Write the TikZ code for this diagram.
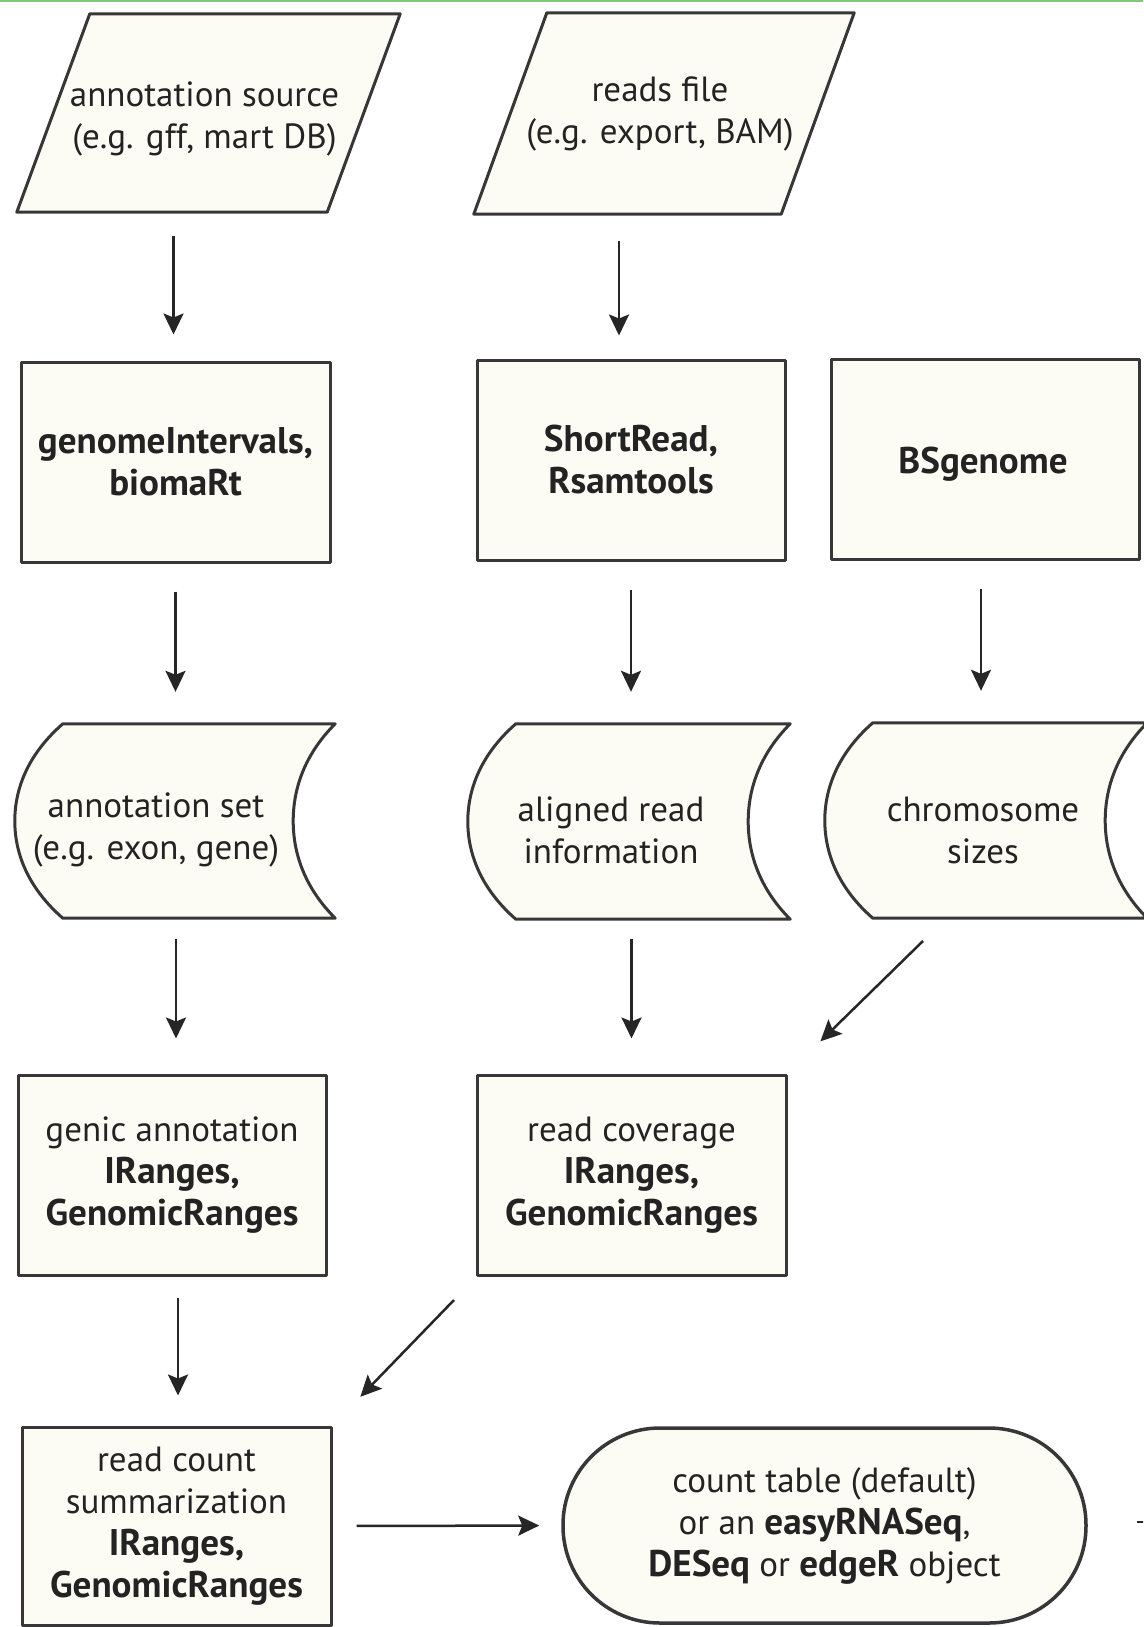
\documentclass[tikz,border=0pt]{standalone}
\usepackage{fontspec}
\setmainfont{PT Sans}[BoldFeatures={Scale=1.06}]
\usetikzlibrary{arrows.meta,calc}
\pgfdeclarelayer{bg}
\pgfsetlayers{bg,main}
\definecolor{linec}{RGB}{55,55,55}
\definecolor{fillc}{RGB}{252,252,245}
\definecolor{textc}{RGB}{35,35,35}
\definecolor{topgreen}{RGB}{130,200,120}
\newcommand\fs{\fontsize{35pt}{42pt}\selectfont}
\newcommand\storedshape[1]{%
  \path[shp] ($(#1.north west)+(48,0)$) -- ($(#1.north east)+(42,0)$)
    .. controls ($(#1.north east)+(14,28)$) and ($(#1.east)+(0,-36)$) .. (#1.east)
    .. controls ($(#1.east)+(0,36)$) and ($(#1.south east)+(14,-28)$) .. ($(#1.south east)+(42,0)$)
    -- ($(#1.south west)+(48,0)$)
    .. controls ($(#1.south west)+(16,-28)$) and ($(#1.west)+(0,36)$) .. (#1.west)
    .. controls ($(#1.west)+(0,-36)$) and ($(#1.north west)+(16,28)$) .. cycle;}
\newcommand\paralshape[1]{%
  \path[shp] ($(#1.north west)+(73,0)$) -- (#1.north east)
    -- ($(#1.south east)+(-73,0)$) -- (#1.south west) -- cycle;}
\begin{document}
\begin{tikzpicture}[x=1pt,y=-1pt,
  shp/.style={draw=linec, line width=3pt, fill=fillc, line join=round},
  ghost/.style={minimum width=#1, inner sep=0pt, align=center, font=\fs, text=textc},
  box/.style={shp, minimum width=309pt, minimum height=200pt, inner sep=0pt, align=center, font=\fs, text=textc},
  arr/.style={-{Stealth[length=21pt,width=20pt,inset=4pt]}, line width=2.5pt, draw=black!85},
  txt/.style={inner sep=0pt, align=center, font=\fs, text=textc}]
\useasboundingbox (0,0) rectangle (1143,1627);
\clip (0,0) rectangle (1143,1627);
\fill[topgreen] (0,0) rectangle (1143,2.5);

% row 1: parallelograms
\node[ghost=383pt, minimum height=198pt] (src) at (208.5,113) {};
\node[txt] (srct) at ($(src.center)+(-4,6)$) {annotation source\\(e.g. gff, mart DB)};
\node[ghost=380pt, minimum height=201pt] (rf) at (664,113.5) {};
\node[txt] (rft) at ($(rf.center)+(-4,0)$) {reads file\\(e.g. export, BAM)};

% row 2
\node[box] (gi) at (175.5,462) {\bfseries genomeIntervals,\\\bfseries biomaRt};
\node[box, minimum width=308pt] (sr) at (631,460) {\bfseries ShortRead,\\\bfseries Rsamtools};
\node[box, minimum width=308pt] (bs) at (985,459) {};
\node[txt] (bst) at ($(bs.center)+(-2,5)$) {\bfseries BSgenome};

% row 3: stored data
\node[ghost=278pt, minimum height=194pt] (as) at (154,821) {};
\node[txt] (ast) at ($(as.center)+(2,9)$) {annotation set\\(e.g. exon, gene)};
\node[ghost=280pt, minimum height=195pt] (ar) at (608,821.5) {};
\node[txt] (art) at ($(ar.center)+(3,9)$) {aligned read\\information};
\node[ghost=280pt, minimum height=195pt] (cs) at (965,820.5) {};
\node[txt] (cst) at ($(cs.center)+(18,10)$) {chromosome\\sizes};

% row 4
\node[box, minimum width=308pt] (ga) at (172,1175) {genic annotation\\\bfseries IRanges,\\\bfseries GenomicRanges};
\node[box] (rc) at (631.5,1175) {read coverage\\\bfseries IRanges,\\\bfseries GenomicRanges};

% row 5
\node[box, minimum height=198pt] (rcs) at (176.5,1526) {read count\\summarization\\\bfseries IRanges,\\\bfseries GenomicRanges};
\node[shp, line width=3.5pt, rounded corners=97pt, minimum width=523pt, minimum height=195pt, inner sep=0pt, align=center, font=\fs, text=textc] (ct) at (824.5,1525.5)
  {count table (default)\\or an \textbf{easyRNASeq},\\\textbf{DESeq} or \textbf{edgeR} object};

\begin{pgfonlayer}{bg}
  \paralshape{src}
  \paralshape{rf}
  \storedshape{as}
  \storedshape{ar}
  \storedshape{cs}
\end{pgfonlayer}

% connectors
\draw[arr, shorten <=24pt, shorten >=26pt] ([xshift=-2pt]src.south -| gi.north) -- ([xshift=-2pt]gi.north);
\draw[arr, shorten <=27pt, shorten >=23pt] ([xshift=-12pt]rf.south -| sr.north) -- ([xshift=-12pt]sr.north);
\draw[arr, shorten <=28pt, shorten >=32pt] (gi.south) -- (gi.south |- as.north);
\draw[arr, shorten <=28pt, shorten >=32pt] (sr.south) -- (sr.south |- ar.north);
\draw[arr, shorten <=28pt, shorten >=32pt] ([xshift=-4pt]bs.south) -- ([xshift=-4pt]bs.south |- cs.north);
\draw[arr, shorten <=21pt, shorten >=35pt] ([xshift=4pt]as.south -| ga.north) -- ([xshift=4pt]ga.north);
\draw[arr, shorten <=20pt, shorten >=35pt] (ar.south -| rc.north) -- (rc.north);
\coordinate (d1s) at (923,941);
\draw[arr, shorten >=46pt] (d1s) -- (rc.north east);
\draw[arr, shorten <=21pt, shorten >=30pt] ([xshift=6pt]ga.south) -- ([xshift=6pt]ga.south |- rcs.north);
\coordinate (d2s) at (454,1300);
\draw[arr, shorten >=40pt] (d2s) -- (rcs.north east);
\draw[arr, shorten <=24pt, shorten >=22pt] (rcs.east) -- (ct.west);
\coordinate (stub) at (1137,1522);
\draw[line width=2.5pt, draw=black!85] (stub) -- ++(10,0);
\end{tikzpicture}
\end{document}
